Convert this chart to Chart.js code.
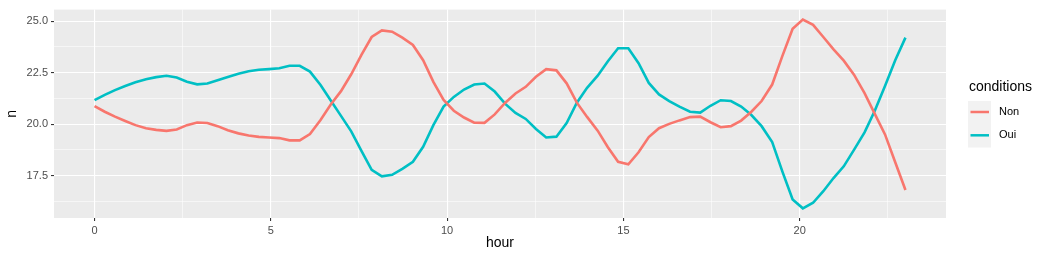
<!DOCTYPE html>
<html>
<head>
<meta charset="utf-8">
<script src="https://cdn.jsdelivr.net/npm/chart.js@4/dist/chart.umd.min.js"></script>
<style>
  body { margin: 0; background: #fff; }
  #wrap { width: 1049px; height: 261px; }
</style>
</head>
<body>
<div id="wrap"><canvas id="chart" width="1049" height="261"></canvas></div>
<script>
// smoothed counts per hour (80 points from 0 to 23)
const hours = [0, 0.29, 0.58, 0.87, 1.16, 1.46, 1.75, 2.04, 2.33, 2.62,
  2.91, 3.20, 3.49, 3.78, 4.08, 4.37, 4.66, 4.95, 5.24, 5.53,
  5.82, 6.11, 6.41, 6.70, 6.99, 7.28, 7.57, 7.86, 8.15, 8.44,
  8.73, 9.03, 9.32, 9.61, 9.90, 10.19, 10.48, 10.77, 11.06, 11.35,
  11.65, 11.94, 12.23, 12.52, 12.81, 13.10, 13.39, 13.68, 13.97, 14.27,
  14.56, 14.85, 15.14, 15.43, 15.72, 16.01, 16.30, 16.59, 16.89, 17.18,
  17.47, 17.76, 18.05, 18.34, 18.63, 18.92, 19.22, 19.51, 19.80, 20.09,
  20.38, 20.67, 20.96, 21.25, 21.54, 21.84, 22.13, 22.42, 22.71, 23.00];

const non = [20.87, 20.6, 20.36, 20.15, 19.95, 19.8, 19.72, 19.67, 19.74, 19.95,
  20.08, 20.05, 19.9, 19.7, 19.55, 19.45, 19.38, 19.35, 19.32, 19.21,
  19.21, 19.52, 20.2, 20.95, 21.6, 22.42, 23.36, 24.23, 24.55, 24.49,
  24.2, 23.84, 23.1, 22.05, 21.17, 20.65, 20.32, 20.07, 20.06, 20.47,
  21.04, 21.49, 21.81, 22.3, 22.67, 22.61, 21.98, 21.04, 20.35, 19.68,
  18.88, 18.17, 18.05, 18.63, 19.37, 19.8, 20.01, 20.18, 20.34, 20.36,
  20.09, 19.85, 19.9, 20.17, 20.6, 21.12, 21.92, 23.31, 24.63, 25.08,
  24.82, 24.23, 23.63, 23.08, 22.4, 21.5, 20.5, 19.5, 18.15, 16.8];

const oui = [21.16, 21.42, 21.65, 21.85, 22.03, 22.18, 22.28, 22.35, 22.26, 22.06,
  21.93, 21.97, 22.13, 22.29, 22.45, 22.57, 22.64, 22.67, 22.71, 22.83,
  22.83, 22.55, 21.9, 21.15, 20.4, 19.65, 18.7, 17.78, 17.46, 17.54,
  17.83, 18.17, 18.9, 19.95, 20.85, 21.32, 21.68, 21.92, 21.97, 21.58,
  20.98, 20.54, 20.25, 19.76, 19.35, 19.39, 20.05, 21.04, 21.76, 22.35,
  23.05, 23.68, 23.68, 22.96, 22.0, 21.44, 21.12, 20.85, 20.6, 20.56,
  20.89, 21.16, 21.12, 20.85, 20.44, 19.9, 19.13, 17.69, 16.34, 15.91,
  16.18, 16.74, 17.38, 17.95, 18.75, 19.6, 20.65, 21.85, 23.1, 24.2];

const seriesNames = ['Non', 'Oui'];
const seriesColors = ['#F8766D', '#00BFC4'];

const xTicks = [0, 5, 10, 15, 20];
const xMinor = [2.5, 7.5, 12.5, 17.5, 22.5];
const yTicks = [17.5, 20, 22.5, 25];
const yMinor = [16.25, 18.75, 21.25, 23.75];

const FONT = "'Liberation Sans', Arial, Helvetica, sans-serif";

const isMajor = (list, v) => list.some(t => Math.abs(t - v) < 1e-6);

// grey panel like ggplot
const panelBg = {
  id: 'panelBg',
  beforeDraw(chart) {
    const a = chart.chartArea, c = chart.ctx;
    c.save();
    c.fillStyle = '#EBEBEB';
    c.fillRect(a.left, a.top, a.right - a.left, a.bottom - a.top);
    c.restore();
  }
};

// ggplot style legend on the right
const sideLegend = {
  id: 'sideLegend',
  afterDraw(chart) {
    const c = chart.ctx;
    const left = chart.chartArea.right + 22;
    c.save();
    c.fillStyle = '#000';
    c.font = '14px ' + FONT;
    c.textBaseline = 'middle';
    c.textAlign = 'left';
    c.fillText('conditions', left + 1, 87);
    c.fillStyle = '#F2F2F2';
    c.fillRect(left, 101, 23, 46.5);
    seriesNames.forEach((name, i) => {
      const y = 112 + i * 23.3;
      c.strokeStyle = seriesColors[i];
      c.lineWidth = 2.5;
      c.beginPath();
      c.moveTo(left + 2.5, y);
      c.lineTo(left + 21, y);
      c.stroke();
      c.fillStyle = '#000';
      c.font = '11px ' + FONT;
      c.fillText(name, left + 31, y);
    });
    c.restore();
  }
};

const ctx = document.getElementById('chart').getContext('2d');

new Chart(ctx, {
  type: 'line',
  data: {
    datasets: [
      { label: seriesNames[0], data: hours.map((h, i) => ({ x: h, y: non[i] })), borderColor: seriesColors[0] },
      { label: seriesNames[1], data: hours.map((h, i) => ({ x: h, y: oui[i] })), borderColor: seriesColors[1] }
    ]
  },
  options: {
    responsive: false,
    animation: false,
    layout: { padding: { top: 7, right: 103, bottom: 0, left: 0 } },
    elements: {
      line: { borderWidth: 2.6, tension: 0, fill: false, borderCapStyle: 'butt' },
      point: { radius: 0 }
    },
    plugins: { legend: { display: false }, tooltip: { enabled: false } },
    scales: {
      x: {
        type: 'linear',
        min: -1.15,
        max: 24.15,
        afterBuildTicks: s => { s.ticks = xTicks.concat(xMinor).sort((a, b) => a - b).map(v => ({ value: v })); },
        afterFit: s => { s.height = 43; },
        border: { display: false },
        grid: {
          color: '#FFFFFF',
          lineWidth: c => isMajor(xTicks, c.tick.value) ? 1.1 : 0.55,
          tickColor: c => isMajor(xTicks, c.tick.value) ? '#333333' : 'rgba(0,0,0,0)',
          tickLength: 3,
          tickWidth: 1.1
        },
        ticks: {
          autoSkip: false,
          maxRotation: 0,
          padding: 3,
          color: '#4D4D4D',
          font: { family: FONT, size: 11 },
          callback: v => isMajor(xTicks, v) ? String(v) : ''
        },
        title: {
          display: true,
          text: 'hour',
          color: '#000',
          font: { family: FONT, size: 14 },
          padding: { top: 0, bottom: 9 }
        }
      },
      y: {
        type: 'linear',
        min: 15.44,
        max: 25.56,
        afterBuildTicks: s => { s.ticks = yTicks.concat(yMinor).sort((a, b) => a - b).map(v => ({ value: v })); },
        afterFit: s => { s.width = 54; },
        border: { display: false },
        grid: {
          color: '#FFFFFF',
          lineWidth: c => isMajor(yTicks, c.tick.value) ? 1.1 : 0.55,
          tickColor: c => isMajor(yTicks, c.tick.value) ? '#333333' : 'rgba(0,0,0,0)',
          tickLength: 3,
          tickWidth: 1.1
        },
        ticks: {
          autoSkip: false,
          padding: 3,
          color: '#4D4D4D',
          font: { family: FONT, size: 11 },
          callback: v => isMajor(yTicks, v) ? v.toFixed(1) : ''
        },
        title: {
          display: true,
          text: 'n',
          color: '#000',
          font: { family: FONT, size: 14 },
          padding: { top: 4, bottom: 0 }
        }
      }
    }
  },
  plugins: [panelBg, sideLegend]
});
</script>
</body>
</html>
